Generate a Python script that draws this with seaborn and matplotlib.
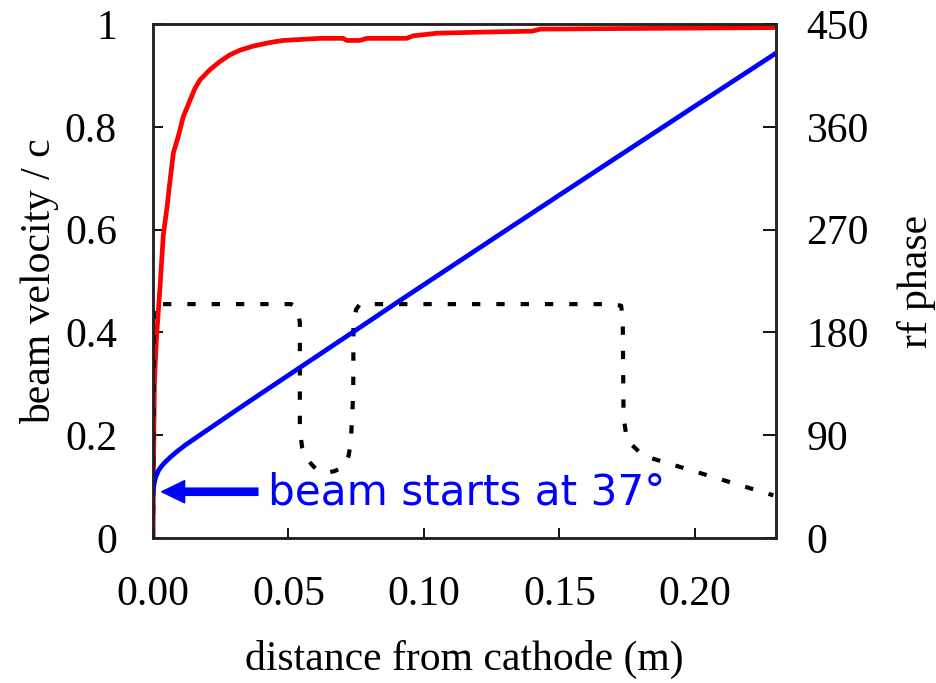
import matplotlib
matplotlib.use('Agg')
import matplotlib.pyplot as plt
import seaborn as sns
import pandas as pd

# ---- data ----
vel_x = [0.0, 0.0002, 0.0005, 0.0009, 0.0014, 0.0026, 0.0038, 0.0052, 0.0060, 0.0075,
         0.0093, 0.0112, 0.0137, 0.0155, 0.0173, 0.0210, 0.0247, 0.0284, 0.0321, 0.0370,
         0.0432, 0.0481, 0.0616, 0.0702, 0.0715, 0.0764, 0.0789, 0.0936, 0.0961, 0.1047,
         0.1200, 0.1400, 0.1430, 0.1700, 0.2000, 0.2300]
vel_y = [0.0, 0.15, 0.30, 0.35, 0.40, 0.49, 0.59, 0.645, 0.683, 0.749,
         0.781, 0.820, 0.852, 0.875, 0.891, 0.911, 0.927, 0.940, 0.949, 0.957,
         0.964, 0.968, 0.972, 0.972, 0.968, 0.968, 0.972, 0.972, 0.977, 0.982,
         0.984, 0.986, 0.990, 0.991, 0.992, 0.993]

phase_x = [0.0, 0.0001, 0.0004, 0.0010, 0.0020, 0.0030, 0.0045, 0.0065, 0.0090, 0.0120,
           0.0160, 0.0200, 0.0260, 0.0333, 0.0407, 0.0481, 0.0542, 0.0739, 0.0911, 0.1256,
           0.1500, 0.1650, 0.2000, 0.2300]
phase_y = [37, 42, 47.5, 53.5, 59, 62.5, 66.5, 71, 76, 81.5,
           88, 94.5, 104.2, 116, 127.8, 139.5, 149.2, 180.4, 207.8, 262,
           300.2, 323.6, 378, 424.5]

field_x = [0.0, 0.0003, 0.051, 0.053, 0.0542, 0.0542, 0.0550, 0.0565, 0.060, 0.064, 0.067,
           0.070, 0.0722, 0.0730, 0.0739, 0.0740, 0.0750, 0.0764, 0.1686, 0.1728, 0.1734,
           0.1737, 0.1750, 0.181, 0.229]
field_y = [0.0, 0.455, 0.455, 0.448, 0.42, 0.214, 0.177, 0.155, 0.135, 0.127, 0.130,
           0.138, 0.160, 0.185, 0.28, 0.42, 0.445, 0.455, 0.455, 0.452, 0.43,
           0.235, 0.19, 0.160, 0.083]

x_ticks = [0.0, 0.05, 0.10, 0.15, 0.20]
x_ticklabels = ['0.00', '0.05', '0.10', '0.15', '0.20']
v_ticks = [0, 0.2, 0.4, 0.6, 0.8, 1.0]
v_ticklabels = ['0', '0.2', '0.4', '0.6', '0.8', '1']
p_ticks = [0, 90, 180, 270, 360, 450]
p_ticklabels = ['0', '90', '180', '270', '360', '450']

annot_text = 'beam starts at 37°'

# ---- plotting ----
sns.set_theme(style='white')
plt.rcParams['font.family'] = ['Liberation Serif', 'DejaVu Serif']
plt.rcParams['lines.scale_dashes'] = False

fig = plt.figure(figsize=(9.36, 6.83), dpi=100)
ax = fig.add_axes([0.1635, 0.2123, 0.6656, 0.7526])
ax2 = ax.twinx()

df_field = pd.DataFrame({'x': field_x, 'y': field_y})
df_vel = pd.DataFrame({'x': vel_x, 'y': vel_y})
df_phase = pd.DataFrame({'x': phase_x, 'y': phase_y})

sns.lineplot(data=df_vel, x='x', y='y', ax=ax, color='#ff0000', lw=3.4,
             estimator=None, sort=False, zorder=2)
sns.lineplot(data=df_field, x='x', y='y', ax=ax, color='black', lw=3.0,
             estimator=None, sort=False, zorder=3)
field_line = ax.lines[-1]
sns.lineplot(data=df_phase, x='x', y='y', ax=ax2, color='#0000ff', lw=3.4,
             estimator=None, sort=False)

ax.set_xlim(0, 0.23)
ax.set_ylim(0, 1)
ax2.set_ylim(0, 450)

ax.set_xticks(x_ticks)
ax.set_xticklabels(x_ticklabels)
ax.set_yticks(v_ticks)
ax.set_yticklabels(v_ticklabels)
ax2.set_yticks(p_ticks)
ax2.set_yticklabels(p_ticklabels)

ax.tick_params(axis='x', direction='in', length=7.5, width=1.3, labelsize=30, pad=27,
               bottom=True, top=False, colors='black')
ax.tick_params(axis='y', direction='in', length=7.5, width=1.3, labelsize=30, pad=26,
               left=True, right=False, colors='black')
ax2.tick_params(axis='y', direction='in', length=9.5, width=1.3, labelsize=30, pad=22,
                right=True, left=False, colors='black')

ax.set_xlabel('distance from cathode (m)', fontsize=30, labelpad=19, color='black')
ax.set_ylabel('beam velocity / c', fontsize=30, labelpad=4, color='black')
ax2.set_ylabel('rf phase', fontsize=30, labelpad=20, color='black')

for a in (ax, ax2):
    for s in a.spines.values():
        s.set_linewidth(1.8)
        s.set_color('#222222')
        s.set_visible(True)

# arrow and annotation
ax2.annotate('', xy=(0.0032, 40.5), xytext=(0.0387, 40.5),
             arrowprops=dict(width=5.2, headwidth=16, headlength=16.5,
                             color='#0000ff', shrink=0))
ax2.text(0.0424, 28.9, annot_text, color='#0000ff', fontsize=30.3,
         family=['DejaVu Sans'], va='baseline', ha='left')

# dash style of the field profile
field_line.set_linewidth(3.0)
field_line.set_dash_capstyle('butt')
field_line.set_dashes((6.0, 11.5))

fig.savefig('out.png', dpi=100)
